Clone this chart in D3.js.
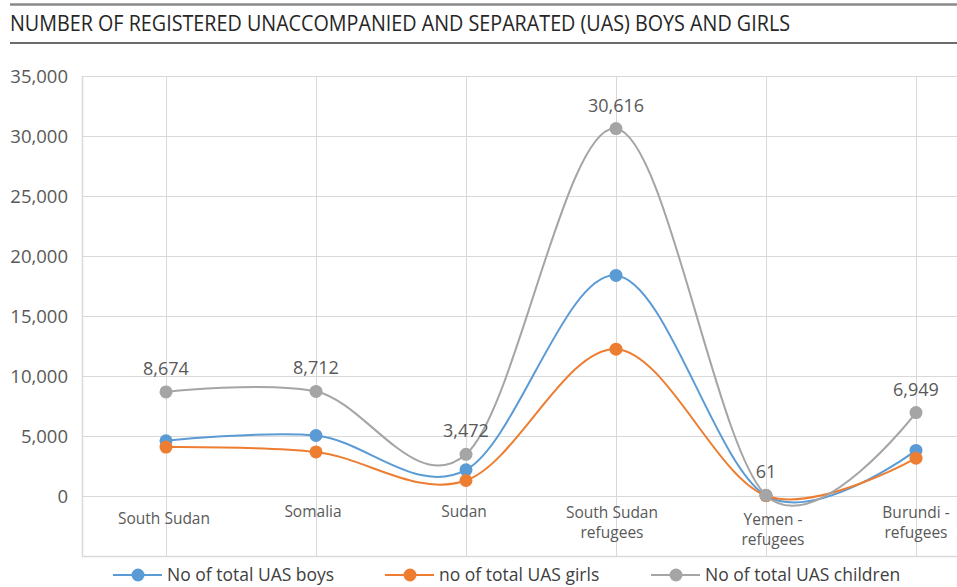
<!DOCTYPE html>
<html>
<head>
<meta charset="utf-8">
<script src="https://cdn.jsdelivr.net/npm/d3@7"></script>
<style>
  html, body { margin: 0; padding: 0; background: #fff; }
  svg { display: block; }
</style>
</head>
<body>
<svg id="chart" width="957" height="587"></svg>
<script>
// ---- data ----
const title = "NUMBER OF REGISTERED UNACCOMPANIED AND SEPARATED (UAS) BOYS AND GIRLS";
const categories = ["South Sudan", "Somalia", "Sudan", "South Sudan\nrefugees", "Yemen -\nrefugees", "Burundi -\nrefugees"];
const boys     = [4600, 5040, 2180, 18380, 35, 3800];
const girls    = [4074, 3672, 1292, 12236, 26, 3149];
const children = [8674, 8712, 3472, 30616, 61, 6949];
const seriesNames = ["No of total UAS boys", "no of total UAS girls", "No of total UAS children"];
const yTicks = [0, 5000, 10000, 15000, 20000, 25000, 30000, 35000];

// ---- styles ----
const colors = ["#5B9BD5", "#ED7D31", "#A5A5A5"];
const textColor = "#595959";
const gridColor = "#D9D9D9";

const svg = d3.select("#chart");

// title block
svg.append("line").attr("x1", 10).attr("x2", 957).attr("y1", 4.5).attr("y2", 4.5)
  .attr("stroke", "#8a8a8a").attr("stroke-width", 2.5);
svg.append("line").attr("x1", 10).attr("x2", 957).attr("y1", 43).attr("y2", 43)
  .attr("stroke", "#3a3a3a").attr("stroke-width", 1.5);
svg.append("text").attr("x", 10).attr("y", 31)
  .attr("font-family", "'Liberation Sans Narrow', 'Open Sans', sans-serif")
  .attr("font-size", 21).attr("fill", "#262626")
  .attr("textLength", 780).attr("lengthAdjust", "spacingAndGlyphs")
  .text(title);

// scales
const x = d3.scalePoint().domain(d3.range(categories.length)).range([166, 916]);
const y = d3.scaleLinear().domain([0, 35000]).range([496, 76]);
const plotLeft = 82, plotRight = 957, plotTop = 76, plotBottom = 556;

// horizontal gridlines
svg.append("g").selectAll("line").data(yTicks).join("line")
  .attr("x1", plotLeft).attr("x2", plotRight)
  .attr("y1", d => Math.round(y(d)) + 0.5).attr("y2", d => Math.round(y(d)) + 0.5)
  .attr("stroke", gridColor).attr("stroke-width", 1);
// bottom border
svg.append("line").attr("x1", plotLeft).attr("x2", plotRight)
  .attr("y1", plotBottom + 0.5).attr("y2", plotBottom + 0.5)
  .attr("stroke", gridColor).attr("stroke-width", 1.5);
// left border
svg.append("line").attr("x1", plotLeft + 0.5).attr("x2", plotLeft + 0.5)
  .attr("y1", plotTop).attr("y2", plotBottom)
  .attr("stroke", gridColor).attr("stroke-width", 1.5);
// vertical gridlines at categories
svg.append("g").selectAll("line").data(d3.range(categories.length)).join("line")
  .attr("x1", d => Math.round(x(d)) + 0.5).attr("x2", d => Math.round(x(d)) + 0.5)
  .attr("y1", plotTop).attr("y2", plotBottom)
  .attr("stroke", gridColor).attr("stroke-width", 1);

// y axis labels
const fmt = d3.format(",");
svg.append("g").selectAll("text").data(yTicks).join("text")
  .attr("x", 68).attr("y", d => y(d) + 7)
  .attr("text-anchor", "end")
  .attr("font-family", "'Open Sans', sans-serif").attr("font-size", 18.5)
  .attr("fill", textColor)
  .text(d => fmt(d));

// category labels (Excel places them with small irregular offsets)
const catDx = [-2, -3, -2, -4, 7, 0];
const catY  = [524, 517, 517, 518, 525, 518];
const catG = svg.append("g");
categories.forEach((c, i) => {
  const t = catG.append("text")
    .attr("text-anchor", "middle")
    .attr("font-family", "'Open Sans', sans-serif").attr("font-size", 15.5)
    .attr("fill", textColor);
  c.split("\n").forEach((line, j) => {
    t.append("tspan").attr("x", x(i) + catDx[i]).attr("y", catY[i] + j * 20).text(line);
  });
});

// lines
const allSeries = [boys, girls, children];
const line = d3.line()
  .x((d, i) => x(i))
  .y(d => y(d))
  .curve(d3.curveCardinal.tension(0));

allSeries.forEach((s, k) => {
  svg.append("path").datum(s)
    .attr("d", line).attr("fill", "none")
    .attr("stroke", colors[k]).attr("stroke-width", 2);
});
allSeries.forEach((s, k) => {
  svg.append("g").selectAll("circle").data(s).join("circle")
    .attr("cx", (d, i) => x(i)).attr("cy", d => y(d))
    .attr("r", 6.5).attr("fill", colors[k]);
});

// data labels for children
svg.append("g").selectAll("text").data(children).join("text")
  .attr("x", (d, i) => x(i)).attr("y", d => y(d) - 17)
  .attr("text-anchor", "middle")
  .attr("font-family", "'Open Sans', sans-serif").attr("font-size", 18)
  .attr("fill", textColor)
  .text(d => fmt(d));

// legend
const legendX = [113, 385, 651];
const legendY = 575;
const lg = svg.append("g");
seriesNames.forEach((n, k) => {
  const g = lg.append("g").attr("transform", `translate(${legendX[k]},${legendY})`);
  g.append("line").attr("x1", 0).attr("x2", 49).attr("y1", 0).attr("y2", 0)
    .attr("stroke", colors[k]).attr("stroke-width", 2);
  g.append("circle").attr("cx", 25).attr("cy", 0).attr("r", 6.5).attr("fill", colors[k]);
  g.append("text").attr("x", 54).attr("y", 6)
    .attr("font-family", "'Liberation Sans Narrow', 'Open Sans', sans-serif")
    .attr("font-size", 17.5).attr("fill", "#404040")
    .text(n);
});
</script>
</body>
</html>
